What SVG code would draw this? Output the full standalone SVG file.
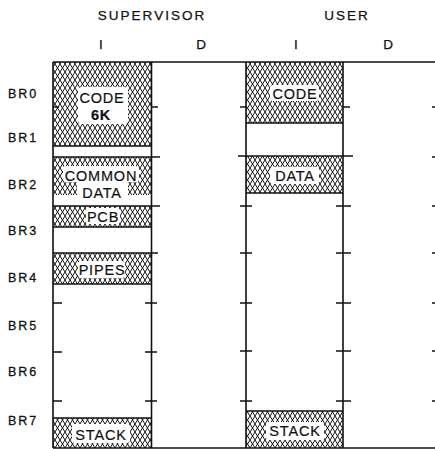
<svg xmlns="http://www.w3.org/2000/svg" width="435" height="449" viewBox="0 0 435 449">
<style>
.hdr{font-family:"Liberation Sans",Arial,sans-serif;font-size:13.5px;letter-spacing:2px;fill:#111;stroke:#111;stroke-width:0.25;text-anchor:middle}
.br{font-family:"Liberation Sans",Arial,sans-serif;font-size:12.5px;letter-spacing:2px;fill:#111;stroke:#111;stroke-width:0.3}
.lbl{font-family:"Liberation Sans",Arial,sans-serif;font-size:14.5px;letter-spacing:0.8px;fill:#111;stroke:#111;stroke-width:0.2;text-anchor:middle}
.ln{stroke:#111;stroke-width:1.6;fill:none}
.tk{stroke:#111;stroke-width:1.4;fill:none}
.hatch{fill:url(#xh)}
.bg{fill:#fff}
</style>
<defs>
<pattern id="xh" patternUnits="userSpaceOnUse" width="5" height="8">
<rect width="5" height="8" fill="#fff"/>
<path d="M0,0 L5,8 M5,0 L0,8 M-2.5,4 L0,8 M5,0 L7.5,4" stroke="#111" stroke-width="1"/>
</pattern>
</defs>
<rect width="435" height="449" fill="#fff"/>

<g id="headers">
<text class="hdr" x="152" y="19.5">SUPERVISOR</text>
<text class="hdr" x="347" y="19.5">USER</text>
<text class="hdr" x="102" y="48.5">I</text>
<text class="hdr" x="202" y="48.5">D</text>
<text class="hdr" x="297" y="48.5">I</text>
<text class="hdr" x="389" y="48.5">D</text>
</g>

<g id="br-labels">
<text class="br" x="8" y="98">BR0</text>
<text class="br" x="8" y="142">BR1</text>
<text class="br" x="8" y="189">BR2</text>
<text class="br" x="8" y="235">BR3</text>
<text class="br" x="8" y="282">BR4</text>
<text class="br" x="8" y="330">BR5</text>
<text class="br" x="8" y="376">BR6</text>
<text class="br" x="8" y="425">BR7</text>
</g>

<g id="sup-code">
<rect class="hatch" x="53" y="62" width="98.5" height="84"/>
<rect class="bg" x="78" y="87" width="50" height="37" rx="4"/>
<text class="lbl" x="102" y="103">CODE</text>
<text class="lbl" x="101" y="120" font-weight="bold">6K</text>
</g>

<g id="sup-common-data">
<rect class="hatch" x="53" y="157" width="98.5" height="38"/>
<rect class="bg" x="63" y="166" width="76" height="16" rx="3"/>
<rect class="bg" x="77" y="181" width="51" height="17" rx="3"/>
<text class="lbl" x="101" y="180.5">COMMON</text>
<text class="lbl" x="102" y="197.5">DATA</text>
</g>

<g id="sup-pcb">
<rect class="hatch" x="53" y="206" width="98.5" height="21"/>
<rect class="bg" x="86" y="208" width="34" height="16" rx="3"/>
<text class="lbl" x="103" y="222">PCB</text>
</g>

<g id="sup-pipes">
<rect class="hatch" x="53" y="253" width="98.5" height="31"/>
<rect class="bg" x="78" y="261" width="47" height="17" rx="3"/>
<text class="lbl" x="102" y="275">PIPES</text>
</g>

<g id="sup-stack">
<rect class="hatch" x="53" y="418" width="98.5" height="30"/>
<rect class="bg" x="72" y="424" width="58" height="19" rx="3"/>
<text class="lbl" x="101" y="440">STACK</text>
</g>

<g id="user-code">
<rect class="hatch" x="246" y="62" width="97" height="61"/>
<rect class="bg" x="270" y="85" width="49" height="16" rx="3"/>
<text class="lbl" x="295" y="98.5">CODE</text>
</g>

<g id="user-data">
<rect class="hatch" x="246" y="156" width="97" height="37"/>
<rect class="bg" x="270" y="167" width="49" height="17" rx="3"/>
<text class="lbl" x="295" y="181">DATA</text>
</g>

<g id="user-stack">
<rect class="hatch" x="246" y="411" width="97" height="37"/>
<rect class="bg" x="266" y="422" width="58" height="18" rx="3"/>
<text class="lbl" x="295" y="436">STACK</text>
</g>

<g id="connectors">
<path class="ln" d="M53,62 H435 M53,448 H435"/>
<path class="ln" d="M53,62 V448 M151.5,62 V448 M246,62 V448 M343,62 V448"/>
<path class="ln" d="M53,146 H151.5 M53,157 H160 M53,206 H160 M53,227 H151.5 M53,253 H158 M53,284 H151.5 M53,418 H151.5"/>
<path class="ln" d="M246,123 H343 M238,156 H353 M246,193 H343 M246,411 H343"/>
<path class="tk" d="M151.5,107 H158 M53,107 H59 M53,303 H62 M53,352 H62 M53,401 H62 M145,303 H157 M145,352 H157 M145,401 H157"/>
<path class="tk" d="M240,107 H246 M343,107 H350 M240,206 H252 M336,206 H351 M240,253 H252 M336,253 H351 M240,303 H252 M336,303 H351 M240,351 H252 M336,351 H351 M240,401 H252 M336,401 H351"/>
<path class="tk" d="M432,107 H435 M432,157 H435 M432,206 H435 M432,253 H435 M432,303 H435 M432,351 H435 M432,401 H435"/>
</g>
</svg>
